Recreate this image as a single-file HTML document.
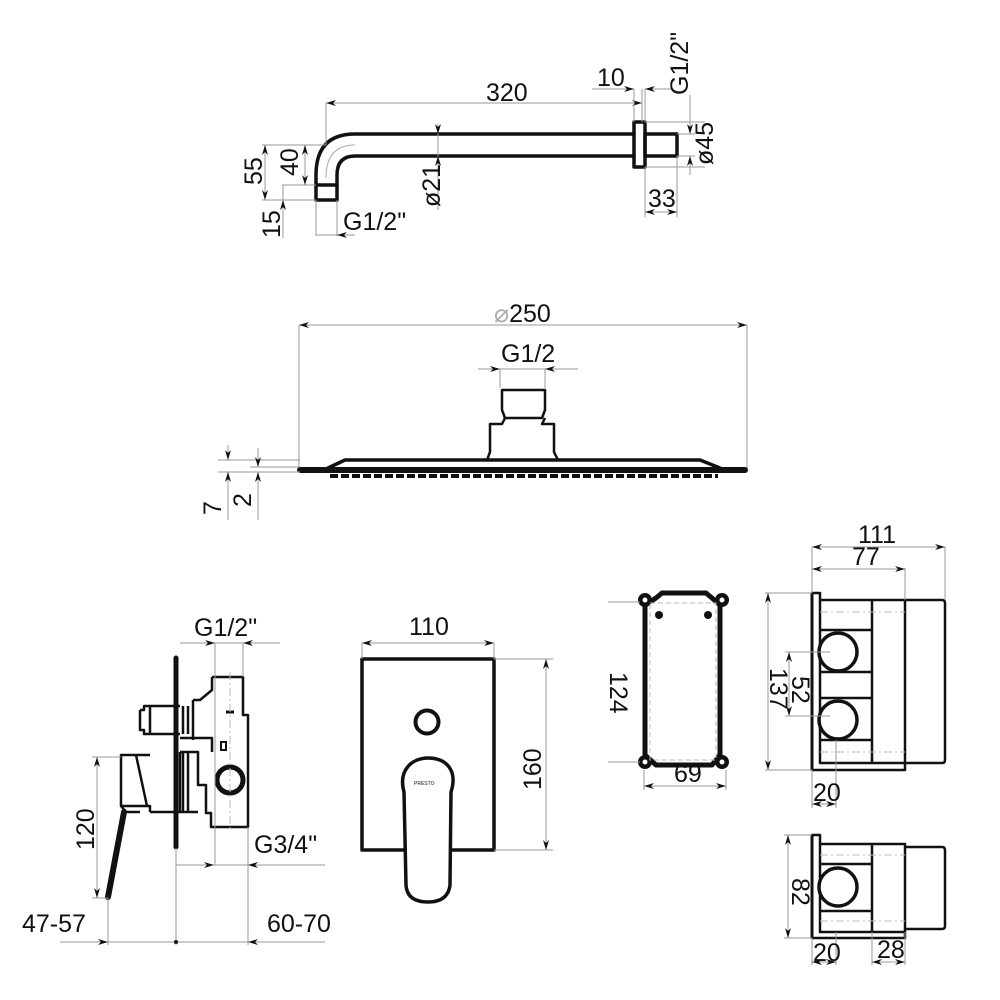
<!DOCTYPE html>
<html><head><meta charset="utf-8"><style>
html,body{margin:0;padding:0;background:#fff;}
svg{display:block;}
text{font-family:"Liberation Sans Narrow","Liberation Sans",sans-serif;fill:#111;}
.t{font-size:25px;}
.d{stroke:#999;stroke-width:1;fill:none;}
.o{stroke:#111;stroke-width:3.5;fill:none;stroke-linejoin:round;stroke-linecap:round;}
.o2{stroke:#111;stroke-width:2.5;fill:none;stroke-linejoin:round;}
.c{stroke:#bbb;stroke-width:1;fill:none;stroke-dasharray:8 3 2 3;}
</style></head><body>
<svg width="1000" height="1000" viewBox="0 0 1000 1000" xmlns="http://www.w3.org/2000/svg">
<defs>
<marker id="a" viewBox="0 0 10 6" refX="10" refY="3" markerWidth="10" markerHeight="6" orient="auto-start-reverse" markerUnits="userSpaceOnUse"><path d="M0,0 L10,3 L0,6 L3,3z" fill="#111"/></marker>
</defs>

<!-- ===== Shower arm ===== -->
<path class="o" d="M634,134 H355 Q316,134 316,175 V185"/>
<path class="o" d="M634,156 H355 Q337,156 337,175 V185"/>
<path d="M355,145 Q326,145 326,178" stroke="#aaa" fill="none"/>
<rect class="o" x="316" y="185" width="21" height="15"/>
<rect class="o" x="634" y="122" width="11" height="45"/>
<rect class="o" x="645" y="134" width="32" height="22"/>
<line class="d" x1="326" y1="103" x2="642" y2="103" marker-start="url(#a)" marker-end="url(#a)"/>
<line class="d" x1="326" y1="103" x2="326" y2="145"/>
<line class="d" x1="642" y1="89" x2="642" y2="122"/>
<line class="d" x1="634" y1="89" x2="634" y2="122"/>
<text class="t" x="486" y="101">320</text>
<line class="d" x1="592" y1="89" x2="634" y2="89" marker-end="url(#a)"/>
<line class="d" x1="672" y1="89" x2="645" y2="89" marker-end="url(#a)"/>
<line class="d" x1="645" y1="89" x2="645" y2="122"/>
<text class="t" x="597" y="86">10</text>
<text class="t" transform="translate(688,95) rotate(-90)">G1/2"</text>
<line class="d" x1="690" y1="95" x2="690" y2="134" marker-end="url(#a)"/>
<line class="d" x1="690" y1="175" x2="690" y2="156" marker-end="url(#a)"/>
<line class="d" x1="645" y1="122" x2="705" y2="122"/>
<line class="d" x1="645" y1="167" x2="705" y2="167"/>
<line class="d" x1="677" y1="134" x2="695" y2="134"/>
<line class="d" x1="677" y1="156" x2="695" y2="156"/>
<text class="t" transform="translate(713,165) rotate(-90)">ø45</text>
<line class="d" x1="645" y1="167" x2="645" y2="217"/>
<line class="d" x1="677" y1="156" x2="677" y2="217"/>
<line class="d" x1="645" y1="212" x2="677" y2="212" marker-start="url(#a)" marker-end="url(#a)"/>
<text class="t" x="648" y="207">33</text>
<line class="d" x1="438" y1="124" x2="438" y2="134" marker-end="url(#a)"/>
<line class="d" x1="438" y1="134" x2="438" y2="156"/>
<line class="d" x1="438" y1="210" x2="438" y2="156" marker-end="url(#a)"/>
<text class="t" transform="translate(440,207) rotate(-90)">ø21</text>
<line class="d" x1="262" y1="145" x2="326" y2="145"/>
<line class="d" x1="262" y1="200" x2="316" y2="200"/>
<line class="d" x1="282" y1="185" x2="316" y2="185"/>
<line class="d" x1="265" y1="145" x2="265" y2="200" marker-start="url(#a)" marker-end="url(#a)"/>
<line class="d" x1="305" y1="145" x2="305" y2="185" marker-start="url(#a)" marker-end="url(#a)"/>
<text class="t" transform="translate(262,185) rotate(-90)">55</text>
<text class="t" transform="translate(298,176) rotate(-90)">40</text>
<line class="d" x1="283" y1="185" x2="283" y2="238"/>
<line class="d" x1="283" y1="218" x2="283" y2="200" marker-end="url(#a)"/>
<text class="t" transform="translate(280,238) rotate(-90)">15</text>
<line class="d" x1="316" y1="200" x2="316" y2="236"/>
<line class="d" x1="337" y1="200" x2="337" y2="236"/>
<line class="d" x1="316" y1="235" x2="355" y2="235"/>
<line class="d" x1="355" y1="235" x2="337" y2="235" marker-end="url(#a)"/>
<text class="t" x="343" y="230">G1/2"</text>

<!-- ===== Shower head ===== -->
<line class="d" x1="299" y1="325" x2="747" y2="325" marker-start="url(#a)" marker-end="url(#a)"/>
<line class="d" x1="299" y1="325" x2="299" y2="468"/>
<line class="d" x1="747" y1="325" x2="747" y2="468"/>
<text class="t" x="494" y="322"><tspan fill="#aaa">⌀</tspan>250</text>
<line class="d" x1="478" y1="369" x2="578" y2="369"/>
<line class="d" x1="478" y1="369" x2="500" y2="369" marker-end="url(#a)"/>
<line class="d" x1="578" y1="369" x2="545" y2="369" marker-end="url(#a)"/>
<line class="d" x1="500" y1="369" x2="500" y2="388"/>
<line class="d" x1="545" y1="369" x2="545" y2="388"/>
<text class="t" x="501" y="362">G1/2</text>
<path class="o2" d="M502,390 H545 V410 L542,418 H505 L502,410 Z"/>
<path class="o2" d="M505,418 L502,424 H490 V452 L487,460 H558 L554,452 V424 H542 L545,418"/>
<path class="o" d="M328,468 L345,460 H700 L720,468"/>
<line x1="300" y1="470" x2="745" y2="470" stroke="#111" stroke-width="6" stroke-linecap="round"/>
<line x1="330" y1="476" x2="718" y2="476" stroke="#111" stroke-width="4" stroke-dasharray="8 3"/>
<line class="d" x1="218" y1="460" x2="300" y2="460"/>
<line class="d" x1="218" y1="472" x2="300" y2="472"/>
<line class="d" x1="250" y1="467" x2="300" y2="467"/>
<line class="d" x1="228" y1="445" x2="228" y2="460" marker-end="url(#a)"/>
<line class="d" x1="228" y1="520" x2="228" y2="472" marker-end="url(#a)"/>
<line class="d" x1="258" y1="448" x2="258" y2="467" marker-end="url(#a)"/>
<line class="d" x1="258" y1="520" x2="258" y2="472" marker-end="url(#a)"/>
<text class="t" transform="translate(221,515) rotate(-90)">7</text>
<text class="t" transform="translate(251,507) rotate(-90)">2</text>

<!-- ===== Mixer side view ===== -->
<line x1="176" y1="658" x2="176" y2="847" stroke="#111" stroke-width="5" stroke-linecap="round"/>
<path class="o2" d="M212,677 H243 V715 H248 V827 H211 V813 H206 V785 H198 V752 H180 M212,677 V690 L200,700 H193 M180,738 H212 V752"/>
<path class="o2" d="M140,710 H144 V706 H180 M140,710 V730 H144 V734 H180 M150,706 V734 M183,706 V734 M188,706 V734 M193,700 V740"/>
<path class="o2" d="M180,752 V812 H198 M183,752 V812 M188,752 V812 M180,812 H150"/>
<path class="o2" d="M150,755 H121 V806 H150 V812 M121,755 L136,755 L147,806"/>
<path d="M124,812 L108,897" stroke="#111" stroke-width="6" stroke-linecap="round" fill="none"/>
<path class="o2" d="M121,806 L126,812 H140"/>
<circle cx="230" cy="780" r="13" fill="none" stroke="#111" stroke-width="5"/>
<line x1="226" y1="712" x2="234" y2="712" stroke="#111" stroke-width="3"/>
<rect x="221" y="742" width="5" height="8" fill="none" stroke="#111" stroke-width="2"/>
<line class="c" x1="230" y1="672" x2="230" y2="830"/>
<line class="d" x1="180" y1="643" x2="280" y2="643"/>
<line class="d" x1="200" y1="643" x2="215" y2="643" marker-end="url(#a)"/>
<line class="d" x1="260" y1="643" x2="243" y2="643" marker-end="url(#a)"/>
<line class="d" x1="215" y1="643" x2="215" y2="865"/>
<line class="d" x1="243" y1="643" x2="243" y2="677"/>
<text class="t" x="194" y="636">G1/2"</text>
<line class="d" x1="176" y1="865" x2="325" y2="865"/>
<line class="d" x1="195" y1="865" x2="214" y2="865" marker-end="url(#a)"/>
<line class="d" x1="265" y1="865" x2="248" y2="865" marker-end="url(#a)"/>
<line class="d" x1="248" y1="827" x2="248" y2="945"/>
<text class="t" x="254" y="853">G3/4"</text>
<line class="d" x1="92" y1="757" x2="121" y2="757"/>
<line class="d" x1="92" y1="898" x2="108" y2="898"/>
<line class="d" x1="97" y1="757" x2="97" y2="898" marker-start="url(#a)" marker-end="url(#a)"/>
<text class="t" transform="translate(94,850) rotate(-90)">120</text>
<line class="d" x1="108" y1="898" x2="108" y2="945"/>
<line class="d" x1="176" y1="848" x2="176" y2="945"/>
<line class="d" x1="60" y1="942" x2="325" y2="942"/>
<line class="d" x1="90" y1="942" x2="108" y2="942" marker-end="url(#a)"/>
<line class="d" x1="265" y1="942" x2="248" y2="942" marker-end="url(#a)"/>
<circle cx="176" cy="942" r="2" fill="#111"/>
<text class="t" x="22" y="932">47-57</text>
<text class="t" x="267" y="932">60-70</text>

<!-- ===== Faceplate ===== -->
<path class="o" d="M404,850 H362 V659 H494 V850 H451"/>
<circle cx="427" cy="722" r="11.5" fill="none" stroke="#111" stroke-width="4"/>
<path class="o" d="M404,792 C398,770 412,758 428,758 C446,758 458,770 451,792 L450,885 Q448,902 428,902 Q407,902 406,885 Z"/>
<text x="414" y="785" font-size="5">PRESTO</text>
<line class="d" x1="362" y1="643" x2="494" y2="643" marker-start="url(#a)" marker-end="url(#a)"/>
<line class="d" x1="362" y1="643" x2="362" y2="659"/>
<line class="d" x1="494" y1="643" x2="494" y2="659"/>
<text class="t" x="409" y="635">110</text>
<line class="d" x1="494" y1="659" x2="553" y2="659"/>
<line class="d" x1="494" y1="850" x2="553" y2="850"/>
<line class="d" x1="546" y1="659" x2="546" y2="850" marker-start="url(#a)" marker-end="url(#a)"/>
<text class="t" transform="translate(541,790) rotate(-90)">160</text>

<!-- ===== Box front ===== -->
<path d="M656,598 L662,593 H706 L712,598 L720,605 V755 L712,765 H656 L645,755 V605 Z" fill="none" stroke="#111" stroke-width="5" stroke-linejoin="round"/>
<g fill="#111">
<circle cx="645" cy="600" r="7"/><circle cx="722" cy="600" r="7"/>
<circle cx="645" cy="762" r="7"/><circle cx="722" cy="762" r="7"/>
</g>
<g fill="#fff">
<circle cx="645" cy="600" r="2.5"/><circle cx="722" cy="600" r="2.5"/>
<circle cx="645" cy="762" r="2.5"/><circle cx="722" cy="762" r="2.5"/>
</g>
<rect x="650" y="603" width="66" height="157" fill="none" stroke="#bbb" stroke-dasharray="5 3"/>
<circle cx="659" cy="615" r="4" fill="#111"/>
<circle cx="708" cy="615" r="4" fill="#111"/>
<line class="d" x1="608" y1="602" x2="640" y2="602"/>
<line class="d" x1="608" y1="762" x2="640" y2="762"/>
<text class="t" transform="translate(610,672) rotate(90)">124</text>
<line class="d" x1="644" y1="770" x2="644" y2="790"/>
<line class="d" x1="726" y1="770" x2="726" y2="790"/>
<line class="d" x1="644" y1="786" x2="726" y2="786" marker-start="url(#a)" marker-end="url(#a)"/>
<text class="t" x="674" y="782">69</text>

<!-- ===== Box side ===== -->
<path class="o2" d="M812,593 H820 V600 H905 V770 H812 Z M820,600 V763 H905"/>
<line x1="812" y1="593" x2="812" y2="770" stroke="#111" stroke-width="3"/>
<line class="o2" x1="872" y1="600" x2="872" y2="763"/>
<path class="o2" d="M905,600 H942 Q945,600 945,603 V760 Q945,763 942,763 H905"/>
<line class="o2" x1="820" y1="630" x2="872" y2="630"/>
<line class="o2" x1="820" y1="672" x2="872" y2="672"/>
<line class="o2" x1="820" y1="698" x2="872" y2="698"/>
<line class="o2" x1="820" y1="740" x2="872" y2="740"/>
<circle cx="838" cy="652" r="19" fill="#fff" stroke="#111" stroke-width="3.5"/>
<circle cx="838" cy="720" r="19" fill="#fff" stroke="#111" stroke-width="3.5"/>
<line class="c" x1="820" y1="612" x2="905" y2="612"/>
<line class="c" x1="820" y1="752" x2="905" y2="752"/>
<line class="d" x1="812" y1="547" x2="812" y2="593"/>
<line class="d" x1="945" y1="547" x2="945" y2="600"/>
<line class="d" x1="905" y1="568" x2="905" y2="600"/>
<line class="d" x1="812" y1="547" x2="945" y2="547" marker-start="url(#a)" marker-end="url(#a)"/>
<line class="d" x1="812" y1="569" x2="905" y2="569" marker-start="url(#a)" marker-end="url(#a)"/>
<text class="t" x="858" y="543">111</text>
<text class="t" x="852" y="565">77</text>
<line class="d" x1="765" y1="593" x2="812" y2="593"/>
<line class="d" x1="765" y1="770" x2="812" y2="770"/>
<line class="d" x1="768" y1="593" x2="768" y2="770" marker-start="url(#a)" marker-end="url(#a)"/>
<text class="t" transform="translate(770,668) rotate(90)">137</text>
<line class="d" x1="785" y1="652" x2="830" y2="652"/>
<line class="d" x1="785" y1="716" x2="830" y2="716"/>
<line class="d" x1="789" y1="652" x2="789" y2="716" marker-start="url(#a)" marker-end="url(#a)"/>
<text class="t" transform="translate(792,676) rotate(90)">52</text>
<line class="d" x1="812" y1="770" x2="812" y2="808"/>
<line class="d" x1="836" y1="740" x2="836" y2="808"/>
<line class="d" x1="812" y1="804" x2="836" y2="804" marker-start="url(#a)" marker-end="url(#a)"/>
<text class="t" x="813" y="801">20</text>

<!-- ===== Box small ===== -->
<path class="o2" d="M812,835 H820 V844 H905 V938 H812 Z M820,844 V932 H905"/>
<line x1="812" y1="835" x2="812" y2="938" stroke="#111" stroke-width="3"/>
<line class="o2" x1="872" y1="844" x2="872" y2="932"/>
<path class="o2" d="M905,847 H942 Q945,847 945,850 V926 Q945,929 942,929 H905"/>
<line class="o2" x1="820" y1="864" x2="872" y2="864"/>
<line class="o2" x1="820" y1="911" x2="872" y2="911"/>
<circle cx="838" cy="887" r="19" fill="#fff" stroke="#111" stroke-width="3.5"/>
<line class="c" x1="820" y1="855" x2="905" y2="855"/>
<line class="c" x1="820" y1="921" x2="905" y2="921"/>
<line class="d" x1="784" y1="835" x2="812" y2="835"/>
<line class="d" x1="784" y1="938" x2="812" y2="938"/>
<line class="d" x1="788" y1="835" x2="788" y2="938" marker-start="url(#a)" marker-end="url(#a)"/>
<text class="t" transform="translate(792,878) rotate(90)">82</text>
<line class="d" x1="812" y1="938" x2="812" y2="965"/>
<line class="d" x1="836" y1="932" x2="836" y2="965"/>
<line class="d" x1="872" y1="932" x2="872" y2="965"/>
<line class="d" x1="905" y1="932" x2="905" y2="965"/>
<line class="d" x1="812" y1="962" x2="836" y2="962" marker-start="url(#a)" marker-end="url(#a)"/>
<line class="d" x1="872" y1="962" x2="905" y2="962" marker-start="url(#a)" marker-end="url(#a)"/>
<text class="t" x="813" y="961">20</text>
<text class="t" x="877" y="958">28</text>
</svg>
</body></html>
